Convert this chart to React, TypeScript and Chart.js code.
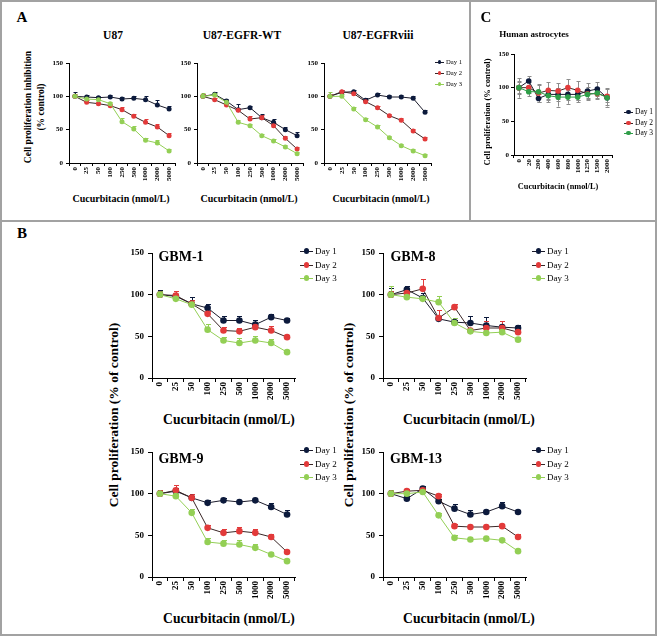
import React, { useEffect, useRef } from 'react';
import { Chart, registerables } from 'chart.js';
Chart.register(...registerables);

const SERIF = '"Liberation Serif", "Times New Roman", serif';

// ---------- categories ----------
const doseA = ['0', '25', '50', '100', '250', '500', '1000', '2000', '5000'];
const doseC = ['0', '20', '200', '400', '600', '800', '1000', '1250', '1500', '2000'];
const dayLabels = ['Day 1', 'Day 2', 'Day 3'];

// ---------- panel A ----------
const u87D1 = [100, 99, 98, 99, 96, 97, 95, 87, 81];
const u87D2 = [100, 91, 89, 86, 80, 70, 61, 54, 41];
const u87D3 = [100, 96, 95, 89, 62, 51, 34, 30, 18];
const u87E1 = [7, 3, 3, 3, 3, 4, 6, 8, 4];
const u87E2 = [3, 3, 3, 3, 4, 4, 5, 5, 4];
const u87E3 = [3, 3, 3, 3, 5, 4, 4, 5, 3];

const wtD1 = [100, 103, 93, 80, 83, 68, 61, 50, 41];
const wtD2 = [100, 95, 87, 79, 66, 68, 56, 37, 21];
const wtD3 = [100, 102, 91, 61, 56, 41, 33, 24, 14];
const wtE1 = [4, 3, 3, 8, 3, 6, 5, 4, 6];
const wtE2 = [3, 3, 3, 3, 4, 4, 4, 3, 3];
const wtE3 = [5, 3, 3, 3, 3, 3, 3, 3, 3];

const viiiD1 = [100, 106, 107, 94, 102, 99, 99, 97, 76];
const viiiD2 = [100, 107, 104, 92, 83, 71, 64, 48, 36];
const viiiD3 = [100, 100, 81, 65, 54, 38, 26, 18, 11];
const viiiE1 = [3, 3, 3, 3, 3, 3, 3, 3, 3];
const viiiE2 = [3, 3, 3, 3, 3, 3, 3, 3, 3];
const viiiE3 = [6, 3, 3, 3, 3, 3, 3, 3, 3];

// ---------- panel C ----------
const astroD1 = [100, 110, 84, 90, 90, 90, 90, 95, 98, 85];
const astroD2 = [100, 100, 92, 96, 95, 100, 96, 91, 91, 87];
const astroD3 = [100, 94, 94, 88, 86, 86, 86, 90, 92, 85];
const astroE1 = [15, 8, 6, 8, 10, 9, 8, 12, 10, 13];
const astroE2 = [10, 8, 14, 13, 12, 13, 14, 10, 8, 12];
const astroE3 = [8, 7, 10, 10, 14, 10, 8, 6, 7, 6];

// ---------- panel B ----------
const gbm1D1 = [100, 98, 89, 84, 69, 69, 64, 73, 69];
const gbm1D2 = [100, 99, 89, 77, 57, 56, 61, 57, 49];
const gbm1D3 = [100, 95, 88, 58, 45, 42, 45, 42, 31];
const gbm1E1 = [6, 6, 8, 5, 5, 6, 6, 4, 3];
const gbm1E2 = [4, 6, 5, 4, 4, 4, 4, 6, 3];
const gbm1E3 = [4, 3, 3, 7, 4, 6, 5, 5, 3];

const gbm8D1 = [100, 106, 96, 71, 67, 66, 63, 61, 60];
const gbm8D2 = [100, 102, 107, 72, 85, 57, 60, 60, 55];
const gbm8D3 = [100, 97, 95, 91, 66, 56, 54, 55, 46];
const gbm8E1 = [8, 5, 6, 3, 3, 8, 10, 8, 4];
const gbm8E2 = [4, 3, 12, 10, 4, 3, 8, 8, 3];
const gbm8E3 = [11, 3, 3, 7, 6, 3, 3, 3, 3];

const gbm9D1 = [100, 103, 95, 89, 92, 90, 92, 84, 75];
const gbm9D2 = [100, 104, 95, 59, 53, 55, 53, 48, 30];
const gbm9D3 = [100, 97, 77, 42, 40, 39, 35, 27, 19];
const gbm9E1 = [5, 4, 4, 3, 3, 3, 3, 5, 5];
const gbm9E2 = [4, 6, 4, 4, 5, 5, 5, 3, 3];
const gbm9E3 = [3, 3, 5, 5, 5, 5, 5, 3, 3];

const gbm13D1 = [100, 94, 106, 91, 82, 75, 78, 85, 78];
const gbm13D2 = [100, 103, 104, 97, 61, 60, 60, 61, 48];
const gbm13D3 = [100, 100, 102, 74, 47, 45, 46, 44, 31];
const gbm13E1 = [4, 3, 3, 3, 6, 5, 3, 5, 3];
const gbm13E2 = [3, 3, 3, 3, 3, 3, 3, 3, 3];
const gbm13E3 = [5, 3, 3, 3, 3, 3, 3, 3, 3];

// ---------- colours ----------
const NAVY = '#0c1a3c';
const RED = '#e23a3a';
const LGREEN = '#93cf55';
const DGREEN = '#2f9e48';
const LINE1 = '#1b1b2b';
const LINE2 = '#3a2626';

type Series = { data: number[]; err: number[]; fill: string; line: string };
type Spec = {
  left: number; top: number; w: number; h: number;
  labels: string[]; series: Series[];
  tick: number; r: number; cap: number; yw: number; xh: number; tl: number;
  xpad: number; ypad: number; errColor?: string; errBoth?: boolean;
};

function mkSeries(d: number[][], e: number[][], green: string): Series[] {
  const fills = [NAVY, RED, green];
  const lines = [LINE1, LINE2, green];
  return d.map((data, i) => ({ data, err: e[i], fill: fills[i], line: lines[i] }));
}

function Plot({ spec }: { spec: Spec }) {
  const ref = useRef<HTMLCanvasElement>(null);
  const padT = 8, padR = 8;
  const cw = spec.yw + spec.w + padR;
  const ch = padT + spec.h + spec.xh;
  useEffect(() => {
    const s = spec;
    const errPlugin = {
      id: 'errBars',
      beforeDatasetsDraw(chart: any) {
        const ctx = chart.ctx;
        const x = chart.scales.x;
        const y = chart.scales.y;
        s.series.forEach((ser) => {
          ctx.save();
          ctx.strokeStyle = s.errColor || ser.fill;
          ctx.lineWidth = 1;
          ser.data.forEach((v, j) => {
            const e = ser.err[j];
            if (!e) return;
            const px = Math.round(x.getPixelForValue(j)) + 0.5;
            const pt = Math.round(y.getPixelForValue(v + e)) + 0.5;
            const pb = y.getPixelForValue(s.errBoth ? v - e : v);
            ctx.beginPath();
            ctx.moveTo(px, pt); ctx.lineTo(px, pb);
            ctx.moveTo(px - s.cap, pt); ctx.lineTo(px + s.cap, pt);
            if (s.errBoth) {
              const pbr = Math.round(pb) + 0.5;
              ctx.moveTo(px - s.cap, pbr); ctx.lineTo(px + s.cap, pbr);
            }
            ctx.stroke();
          });
          ctx.restore();
        });
      },
    };
    const font = { family: SERIF, size: s.tick, weight: 'bold' as const };
    const chart = new Chart(ref.current as HTMLCanvasElement, {
      type: 'line',
      data: {
        labels: s.labels,
        datasets: s.series.map((ser, i) => ({
          data: ser.data,
          borderColor: ser.line,
          backgroundColor: ser.fill,
          pointBackgroundColor: ser.fill,
          pointBorderColor: ser.fill,
          pointRadius: s.r,
          pointHoverRadius: s.r,
          pointBorderWidth: 0,
          borderWidth: 1,
          tension: 0,
          order: 2 - i,
          clip: false as any,
        })),
      },
      options: {
        responsive: false,
        animation: false,
        events: [],
        layout: { padding: { top: padT, right: padR, left: 0, bottom: 0 } },
        plugins: { legend: { display: false }, title: { display: false }, tooltip: { enabled: false } },
        scales: {
          x: {
            type: 'category',
            offset: true,
            grid: { display: true, offset: true, drawOnChartArea: false, drawTicks: true, tickLength: s.tl, color: '#000', lineWidth: 1 },
            border: { display: true, color: '#000', width: 1 },
            ticks: { font, color: '#000', minRotation: 90, maxRotation: 90, padding: s.xpad, autoSkip: false },
            afterFit: (sc: any) => { sc.height = s.xh; sc.paddingLeft = 0; sc.paddingRight = 0; },
          },
          y: {
            type: 'linear',
            min: 0,
            max: 150,
            grid: { display: true, drawOnChartArea: false, drawTicks: true, tickLength: s.tl, color: '#000', lineWidth: 1 },
            border: { display: true, color: '#000', width: 1 },
            ticks: { font, color: '#000', stepSize: 50, padding: s.ypad },
            afterFit: (sc: any) => { sc.width = s.yw; sc.paddingTop = 0; sc.paddingBottom = 0; },
          },
        },
      },
      plugins: [errPlugin],
    });
    return () => chart.destroy();
  }, []);
  return (
    <canvas
      ref={ref}
      width={cw}
      height={ch}
      style={{ position: 'absolute', left: spec.left - spec.yw, top: spec.top - padT, width: cw, height: ch }}
    />
  );
}

function T({ x, y, s, t, bold = true, rot = false, lh = 1 }: { x: number; y: number; s: number; t: React.ReactNode; bold?: boolean; rot?: boolean; lh?: number }) {
  return (
    <div
      style={{
        position: 'absolute', left: x, top: y,
        transform: `translate(-50%, -50%)${rot ? ' rotate(-90deg)' : ''}`,
        font: `${bold ? 'bold ' : ''}${s}px ${SERIF}`,
        lineHeight: `${lh}`, whiteSpace: 'nowrap', textAlign: 'center', color: '#000',
      }}
    >
      {t}
    </div>
  );
}

function Legend({ x, ys, size, len, r, series }: { x: number; ys: number[]; size: number; len: number; r: number; series: Series[] }) {
  return (
    <>
      {series.map((ser, i) => (
        <div key={i}>
          <div style={{ position: 'absolute', left: x, top: ys[i] - 0.5, width: len, height: 1, background: ser.line }} />
          <div style={{ position: 'absolute', left: x + len / 2 - r, top: ys[i] - r, width: 2 * r, height: 2 * r, borderRadius: '50%', background: ser.fill }} />
          <div style={{ position: 'absolute', left: x + len + 2, top: ys[i], transform: 'translateY(-50%)', font: `${size}px ${SERIF}`, whiteSpace: 'nowrap', lineHeight: '1', color: '#000' }}>
            {dayLabels[i]}
          </div>
        </div>
      ))}
    </>
  );
}

const Line = ({ l, t, w, h }: { l: number; t: number; w: number; h: number }) => (
  <div style={{ position: 'absolute', left: l, top: t, width: w, height: h, background: '#a2a2a2' }} />
);

export default function App() {
  const A = { tick: 7, r: 2.5, cap: 2, yw: 22, xh: 26, tl: 3, xpad: 1, ypad: 3, h: 100, top: 63, labels: doseA };
  const B = { tick: 9, r: 3.3, cap: 2.5, yw: 40, xh: 30, tl: 4, xpad: 0, ypad: 4, w: 143, h: 125, labels: doseA };

  const sU87 = mkSeries([u87D1, u87D2, u87D3], [u87E1, u87E2, u87E3], LGREEN);
  const sWT = mkSeries([wtD1, wtD2, wtD3], [wtE1, wtE2, wtE3], LGREEN);
  const sVIII = mkSeries([viiiD1, viiiD2, viiiD3], [viiiE1, viiiE2, viiiE3], LGREEN);
  const sAstro = mkSeries([astroD1, astroD2, astroD3], [astroE1, astroE2, astroE3], DGREEN);
  const s1 = mkSeries([gbm1D1, gbm1D2, gbm1D3], [gbm1E1, gbm1E2, gbm1E3], LGREEN);
  const s8 = mkSeries([gbm8D1, gbm8D2, gbm8D3], [gbm8E1, gbm8E2, gbm8E3], LGREEN);
  const s9 = mkSeries([gbm9D1, gbm9D2, gbm9D3], [gbm9E1, gbm9E2, gbm9E3], LGREEN);
  const s13 = mkSeries([gbm13D1, gbm13D2, gbm13D3], [gbm13E1, gbm13E2, gbm13E3], LGREEN);

  const xTitle = 'Cucurbitacin (nmol/L)';

  return (
    <div style={{ position: 'absolute', left: 0, top: 0, width: 660, height: 637, background: '#fff', overflow: 'hidden' }}>
      {/* frame */}
      <Line l={0} t={0} w={657} h={2} />
      <Line l={0} t={0} w={2} h={636} />
      <Line l={655} t={0} w={2} h={636} />
      <Line l={0} t={634} w={657} h={2} />
      <Line l={469} t={0} w={2} h={222} />
      <Line l={0} t={220} w={657} h={2} />

      {/* Panel A */}
      <T x={22} y={17} s={15} t="A" />
      <T x={113} y={36} s={11.5} t="U87" />
      <T x={242} y={36} s={11.5} t="U87-EGFR-WT" />
      <T x={378} y={36} s={11.5} t="U87-EGFRviii" />
      <T x={34.5} y={107} s={9.5} lh={1.35} rot t={<>Cell proliferation inhibition<br />(% control)</>} />
      <T x={121} y={199} s={10} t={xTitle} />
      <T x={249} y={199} s={10} t={xTitle} />
      <T x={381} y={199} s={10} t={xTitle} />
      <Plot spec={{ ...A, left: 69, w: 106, series: sU87 }} />
      <Plot spec={{ ...A, left: 197, w: 106, series: sWT }} />
      <Plot spec={{ ...A, left: 324, w: 107, series: sVIII }} />
      <Legend x={435} ys={[62, 73, 84]} size={6.6} len={9} r={1.8} series={sVIII} />

      {/* Panel C */}
      <T x={486} y={17} s={15} t="C" />
      <T x={534} y={34} s={9} t="Human astrocytes" />
      <T x={487} y={112} s={8.5} rot t="Cell proliferation (% control)" />
      <T x={558} y={187} s={8.3} t={xTitle} />
      <Plot spec={{ left: 514, top: 54, w: 98, h: 101, labels: doseC, series: sAstro, tick: 7, r: 2.8, cap: 2, yw: 22, xh: 26, tl: 3, xpad: 1, ypad: 2, errColor: '#8c8c8c', errBoth: true }} />
      <Legend x={624} ys={[112, 123, 133]} size={7.5} len={9} r={2.2} series={sAstro} />

      {/* Panel B */}
      <T x={22} y={233} s={15} t="B" />
      <T x={114} y={415} s={13.5} rot t="Cell proliferation (% of control)" />
      <T x={349} y={415} s={13.5} rot t="Cell proliferation (% of control)" />

      <Plot spec={{ ...B, left: 152, top: 253, series: s1 }} />
      <T x={181} y={257} s={14} t="GBM-1" />
      <Legend x={300} ys={[251, 265, 278]} size={9} len={13} r={2.6} series={s1} />
      <T x={229} y={420} s={13.6} t={xTitle} />

      <Plot spec={{ ...B, left: 383, top: 253, series: s8 }} />
      <T x={413} y={257} s={14} t="GBM-8" />
      <Legend x={532} ys={[251, 265, 278]} size={9} len={13} r={2.6} series={s8} />
      <T x={469} y={420} s={13.6} t={xTitle} />

      <Plot spec={{ ...B, left: 152, top: 452, series: s9 }} />
      <T x={181} y={459} s={14} t="GBM-9" />
      <Legend x={300} ys={[450, 464, 477]} size={9} len={13} r={2.6} series={s9} />
      <T x={229} y={619} s={13.6} t={xTitle} />

      <Plot spec={{ ...B, left: 383, top: 452, series: s13 }} />
      <T x={416} y={459} s={14} t="GBM-13" />
      <Legend x={532} ys={[450, 464, 477]} size={9} len={13} r={2.6} series={s13} />
      <T x={469} y={619} s={13.6} t={xTitle} />
    </div>
  );
}
